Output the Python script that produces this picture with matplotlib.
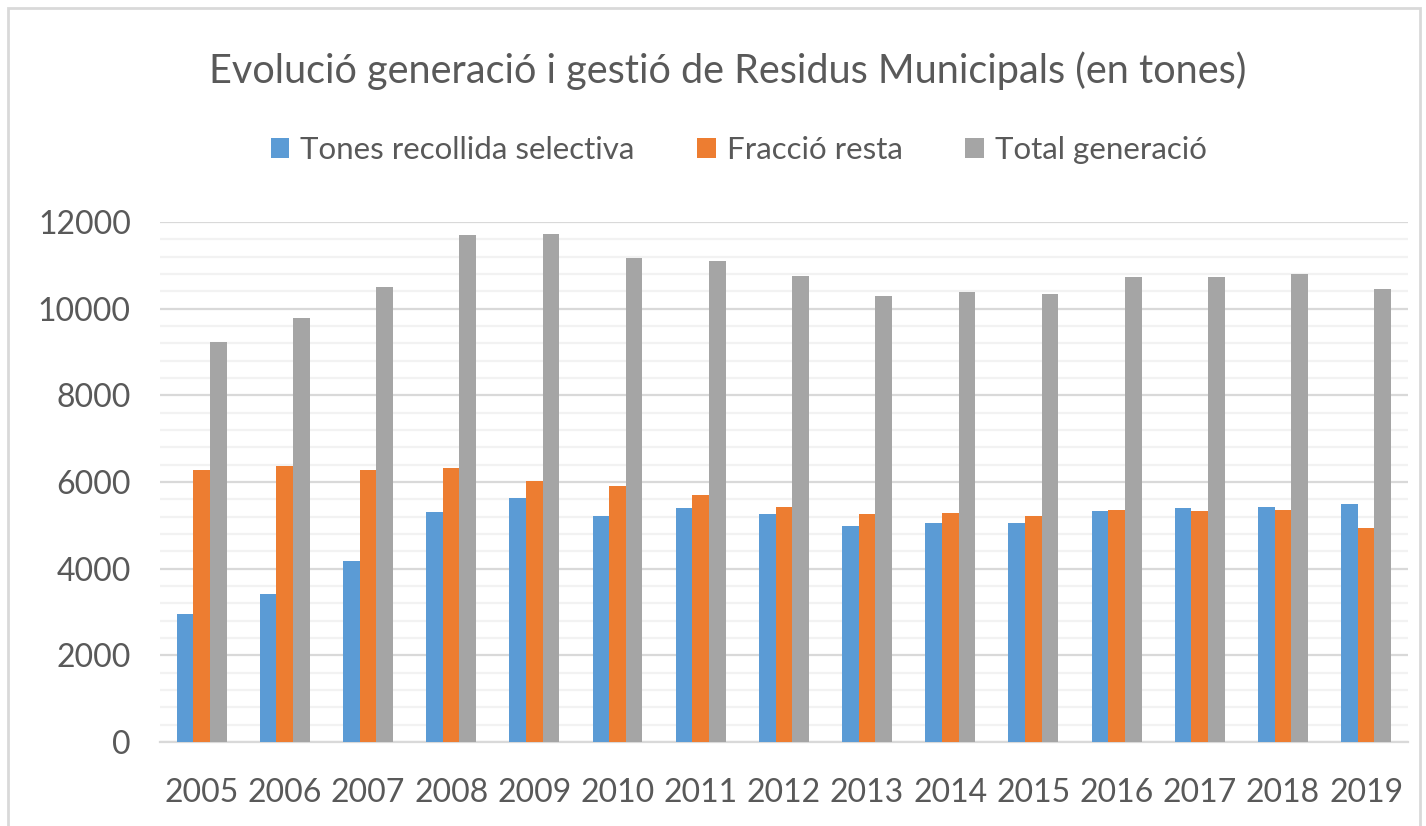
import matplotlib
matplotlib.use("Agg")
import matplotlib.pyplot as plt
import numpy as np
from matplotlib.patches import Rectangle
from matplotlib.ticker import MultipleLocator

years = ["2005", "2006", "2007", "2008", "2009", "2010", "2011", "2012",
         "2013", "2014", "2015", "2016", "2017", "2018", "2019"]
selectiva = [2950, 3410, 4170, 5310, 5640, 5220, 5390, 5270, 4980, 5060, 5060, 5320, 5390, 5430, 5490]
resta = [6280, 6370, 6280, 6320, 6020, 5900, 5690, 5430, 5270, 5280, 5220, 5360, 5320, 5360, 4930]
total = [9240, 9790, 10500, 11690, 11730, 11180, 11090, 10760, 10290, 10380, 10330, 10720, 10720, 10800, 10460]
series_names = ["Tones recollida selectiva", "Fracció resta", "Total generació"]
colors = ["#5B9BD5", "#ED7D31", "#A5A5A5"]

plt.rcParams['font.family'] = ['Lato', 'DejaVu Sans']
txt = "#595959"

fig = plt.figure(figsize=(14.26, 8.26), dpi=100)
ax = fig.add_axes([0.1122, 0.1017, 0.875, 0.6295])

x = np.arange(len(years))
w = 0.2
for i, (vals, name, c) in enumerate(zip([selectiva, resta, total], series_names, colors)):
    ax.bar(x + (i - 1) * w, vals, width=w, color=c, label=name, zorder=3)

ax.set_xlim(-0.5, len(years) - 0.5)
ax.set_ylim(0, 12000)
ax.yaxis.set_major_locator(MultipleLocator(2000))
ax.yaxis.set_minor_locator(MultipleLocator(400))
ax.grid(which='major', axis='y', color='#D9D9D9', linewidth=1.6, zorder=0)
ax.grid(which='minor', axis='y', color='#F2F2F2', linewidth=1.6, zorder=0)
ax.set_xticks(x)
ax.set_xticklabels(years)
for s in ['top', 'right', 'left']:
    ax.spines[s].set_visible(False)
ax.spines['bottom'].set_color('#D9D9D9')
ax.spines['bottom'].set_linewidth(1.6)
ax.tick_params(axis='both', which='both', length=0, labelsize=23, labelcolor=txt)
ax.tick_params(axis='x', pad=26)
ax.tick_params(axis='y', pad=21)

fig.text(0.51, 0.915, "Evolució generació i gestió de Residus Municipals (en tones)",
         ha='center', va='center', fontsize=28.5, color=txt)
fig.legend(loc='center', bbox_to_anchor=(0.518, 0.818), ncol=3, frameon=False,
           fontsize=22.5, labelcolor=txt, handlelength=0.6, handleheight=0.6,
           handletextpad=0.35, columnspacing=2.0)

fig.patches.append(Rectangle((8 / 1426, -0.01), (1420 - 8) / 1426, 1 - 8 / 826 + 0.01,
                             transform=fig.transFigure, fill=False,
                             edgecolor='#D9D9D9', linewidth=2))

fig.savefig("out.png", dpi=100)
